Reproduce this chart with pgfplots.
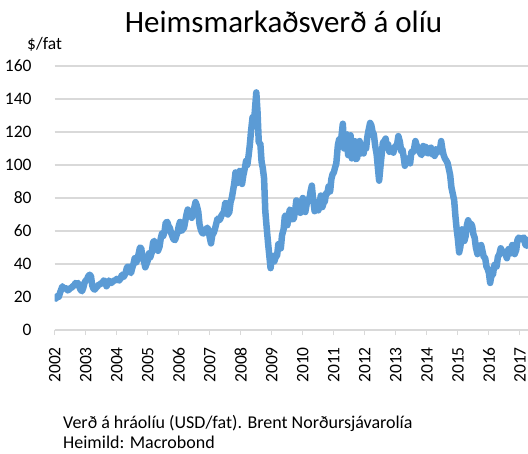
\documentclass[border=0pt]{standalone}
\usepackage{fontspec}
\setmainfont{Carlito}
\usepackage{pgfplots}
\pgfplotsset{compat=1.18}
\usepackage{xcolor}
\definecolor{oilblue}{HTML}{5B9BD5}
\definecolor{gridgrey}{HTML}{D9D9D9}

\begin{document}
\begin{tikzpicture}
\useasboundingbox (0,0) rectangle (528bp,454bp);
\begin{axis}[
    at={(54.7bp,124bp)}, anchor=south west,
    width=473.3bp, height=264bp, scale only axis,
    xmin=2002, xmax=2017.26,
    ymin=0, ymax=160,
    xtick={2002,2003,...,2017},
    ytick={0,20,...,160},
    /pgf/number format/1000 sep={},
    /pgf/number format/assume math mode=true,
    tick label style={font=\fontsize{17.5bp}{20bp}\selectfont, text=black},
    xticklabel style={rotate=90, anchor=east, inner sep=0pt},
    xticklabel shift=12bp,
    yticklabel style={anchor=east, inner sep=0pt},
    yticklabel shift=18bp,
    separate axis lines,
    axis x line*=bottom, axis y line*=left,
    x axis line style={-, draw=gridgrey, line width=1.3bp},
    y axis line style={draw=none},
    ytick style={draw=none},
    xtick style={draw=gridgrey, line width=1.1bp},
    tick align=outside, major tick length=5bp,
    ymajorgrids, grid style={gridgrey, line width=1.3bp},
]
\addplot[oilblue, line width=6.5bp, line join=round, line cap=round] coordinates {
(2002.00,19.5)(2002.04,19.0)(2002.08,20.5)(2002.13,20.0)(2002.17,22.5)(2002.21,24.5)
(2002.25,26.5)(2002.29,25.0)(2002.33,25.5)(2002.38,25.0)(2002.42,24.0)(2002.46,24.5)
(2002.50,25.5)(2002.54,25.5)(2002.58,26.5)(2002.63,27.0)(2002.67,28.5)(2002.71,28.0)
(2002.75,28.5)(2002.79,26.5)(2002.83,24.5)(2002.88,23.5)(2002.92,25.5)(2002.96,28.5)
(2003.00,30.0)(2003.04,30.5)(2003.08,32.5)(2003.13,33.5)(2003.17,32.5)(2003.21,27.0)
(2003.25,25.0)(2003.29,24.5)(2003.33,25.5)(2003.38,26.5)(2003.42,27.5)(2003.46,27.5)
(2003.50,28.5)(2003.54,28.5)(2003.58,30.0)(2003.63,29.5)(2003.67,26.5)(2003.71,28.0)
(2003.75,30.0)(2003.79,29.0)(2003.83,28.5)(2003.88,29.5)(2003.92,30.0)(2003.96,30.0)
(2004.00,31.0)(2004.04,30.5)(2004.08,30.0)(2004.13,31.5)(2004.17,33.5)(2004.21,32.0)
(2004.25,33.0)(2004.29,35.0)(2004.33,38.0)(2004.38,38.5)(2004.42,35.5)(2004.46,34.5)
(2004.50,37.5)(2004.54,40.0)(2004.58,43.5)(2004.63,41.0)(2004.67,43.0)(2004.71,46.5)
(2004.75,50.0)(2004.79,49.5)(2004.83,44.0)(2004.88,41.5)(2004.92,38.0)(2004.96,40.0)
(2005.00,42.0)(2005.04,46.5)(2005.08,44.0)(2005.13,47.0)(2005.17,53.0)(2005.21,54.0)
(2005.25,52.0)(2005.29,50.5)(2005.33,48.0)(2005.38,50.5)(2005.42,55.5)(2005.46,58.5)
(2005.50,57.0)(2005.54,59.5)(2005.58,65.0)(2005.63,65.5)(2005.67,63.0)(2005.71,62.0)
(2005.75,59.0)(2005.79,57.0)(2005.83,55.0)(2005.88,54.5)(2005.92,57.0)(2005.96,59.0)
(2006.00,63.0)(2006.04,65.5)(2006.08,60.0)(2006.13,61.0)(2006.17,62.0)(2006.21,66.0)
(2006.25,70.0)(2006.29,73.0)(2006.33,70.5)(2006.38,69.5)(2006.42,68.0)(2006.46,70.5)
(2006.50,74.0)(2006.54,77.5)(2006.58,75.5)(2006.63,71.5)(2006.67,64.0)(2006.71,61.0)
(2006.75,59.0)(2006.79,58.5)(2006.83,59.5)(2006.88,61.0)(2006.92,62.0)(2006.96,60.5)
(2007.00,56.0)(2007.04,52.5)(2007.08,57.5)(2007.13,59.0)(2007.17,61.5)(2007.21,64.5)
(2007.25,67.5)(2007.29,66.5)(2007.33,67.0)(2007.38,69.5)(2007.42,70.5)(2007.46,72.0)
(2007.50,77.0)(2007.54,76.5)(2007.58,70.0)(2007.63,71.5)(2007.67,77.5)(2007.71,80.0)
(2007.75,84.5)(2007.79,89.0)(2007.83,95.5)(2007.88,89.0)(2007.92,93.0)(2007.96,96.5)
(2008.00,96.0)(2008.04,88.5)(2008.08,93.5)(2008.13,98.0)(2008.17,102.5)(2008.21,100.0)
(2008.25,105.5)(2008.29,112.0)(2008.33,120.5)(2008.38,129.0)(2008.42,124.5)(2008.46,134.5)
(2008.50,144.0)(2008.54,132.0)(2008.58,113.5)(2008.63,113.0)(2008.67,102.0)(2008.71,98.0)
(2008.75,92.0)(2008.79,72.0)(2008.83,63.0)(2008.88,52.5)(2008.92,45.0)(2008.96,37.5)
(2009.00,44.0)(2009.04,45.0)(2009.08,41.5)(2009.13,44.5)(2009.17,45.0)(2009.21,52.0)
(2009.25,51.0)(2009.29,49.5)(2009.33,57.5)(2009.38,61.0)(2009.42,69.0)(2009.46,69.5)
(2009.50,63.5)(2009.54,68.5)(2009.58,73.0)(2009.63,72.0)(2009.67,67.0)(2009.71,67.5)
(2009.75,72.0)(2009.79,78.5)(2009.83,77.5)(2009.88,77.0)(2009.92,71.0)(2009.96,77.5)
(2010.00,80.0)(2010.04,74.5)(2010.08,71.5)(2010.13,77.0)(2010.17,79.5)(2010.21,79.0)
(2010.25,84.0)(2010.29,87.5)(2010.33,79.5)(2010.38,72.0)(2010.42,74.5)(2010.46,77.5)
(2010.50,72.5)(2010.54,76.5)(2010.58,81.5)(2010.63,74.5)(2010.67,77.0)(2010.71,78.0)
(2010.75,83.0)(2010.79,82.5)(2010.83,87.0)(2010.88,84.0)(2010.92,91.5)(2010.96,94.5)
(2011.00,95.5)(2011.04,98.5)(2011.08,101.0)(2011.13,112.0)(2011.17,115.5)(2011.21,112.0)
(2011.25,118.0)(2011.29,125.0)(2011.33,110.0)(2011.38,116.0)(2011.42,118.5)(2011.46,106.0)
(2011.50,115.0)(2011.54,118.0)(2011.58,104.0)(2011.63,111.0)(2011.67,114.5)(2011.71,103.5)
(2011.75,104.0)(2011.79,111.5)(2011.83,114.5)(2011.88,107.0)(2011.92,109.5)(2011.96,107.0)
(2012.00,112.5)(2012.04,110.0)(2012.08,117.0)(2012.13,122.0)(2012.17,125.5)(2012.21,124.0)
(2012.25,120.0)(2012.29,118.5)(2012.33,112.0)(2012.38,106.5)(2012.42,98.5)(2012.46,90.5)
(2012.50,98.5)(2012.54,106.0)(2012.58,113.5)(2012.63,114.5)(2012.67,116.0)(2012.71,110.5)
(2012.75,112.5)(2012.79,108.0)(2012.83,110.0)(2012.88,109.5)(2012.92,107.5)(2012.96,111.0)
(2013.00,111.5)(2013.04,112.5)(2013.08,117.5)(2013.13,114.0)(2013.17,108.5)(2013.21,109.5)
(2013.25,105.0)(2013.29,99.5)(2013.33,104.0)(2013.38,101.5)(2013.42,104.0)(2013.46,101.0)
(2013.50,108.0)(2013.54,107.5)(2013.58,109.0)(2013.63,114.5)(2013.67,112.0)(2013.71,108.5)
(2013.75,109.5)(2013.79,107.0)(2013.83,106.0)(2013.88,111.5)(2013.92,109.0)(2013.96,111.0)
(2014.00,107.5)(2014.04,107.0)(2014.08,109.0)(2014.13,110.5)(2014.17,106.5)(2014.21,107.0)
(2014.25,105.5)(2014.29,109.5)(2014.33,107.5)(2014.38,110.0)(2014.42,109.0)(2014.46,114.5)
(2014.50,109.5)(2014.54,106.0)(2014.58,104.0)(2014.63,102.5)(2014.67,101.0)(2014.71,97.5)
(2014.75,94.0)(2014.79,86.5)(2014.83,83.0)(2014.88,78.5)(2014.92,69.0)(2014.96,61.0)
(2015.00,55.0)(2015.04,47.0)(2015.08,50.5)(2015.13,61.0)(2015.17,57.0)(2015.21,54.0)
(2015.25,57.0)(2015.29,63.5)(2015.33,66.5)(2015.38,63.5)(2015.42,64.5)(2015.46,63.0)
(2015.50,58.0)(2015.54,56.0)(2015.58,50.0)(2015.63,46.0)(2015.67,49.5)(2015.71,48.0)
(2015.75,51.5)(2015.79,48.0)(2015.83,44.5)(2015.88,43.5)(2015.92,38.5)(2015.96,37.0)
(2016.00,34.5)(2016.04,28.5)(2016.08,33.0)(2016.13,33.5)(2016.17,39.0)(2016.21,40.0)
(2016.25,38.5)(2016.29,44.5)(2016.33,45.5)(2016.38,49.5)(2016.42,48.0)(2016.46,47.5)
(2016.50,47.0)(2016.54,45.5)(2016.58,43.5)(2016.63,49.0)(2016.67,46.0)(2016.71,47.0)
(2016.75,51.5)(2016.79,51.5)(2016.83,46.0)(2016.88,48.5)(2016.92,54.5)(2016.96,56.0)
(2017.00,55.5)(2017.04,55.0)(2017.08,55.5)(2017.13,56.0)(2017.17,52.0)(2017.21,51.0)
(2017.25,53.0)(2017.29,55.0)(2017.33,53.5)
};
\end{axis}
\node[anchor=base] at (283.5bp,421bp) {\fontsize{31bp}{34bp}\selectfont Heimsmarkaðsverð á olíu};
\node[anchor=base west, inner sep=0pt] at (27bp,404bp) {\fontsize{17.5bp}{20bp}\selectfont \$/fat};
\node[anchor=base west, inner sep=0pt, align=left] at (63bp,26bp)
  {\fontsize{18bp}{20bp}\selectfont Verð á hráolíu (USD/fat). Brent Norðursjávarolía};
\node[anchor=base west, inner sep=0pt, align=left] at (63bp,6bp)
  {\fontsize{18bp}{20bp}\selectfont Heimild: Macrobond};
\end{tikzpicture}
\end{document}
